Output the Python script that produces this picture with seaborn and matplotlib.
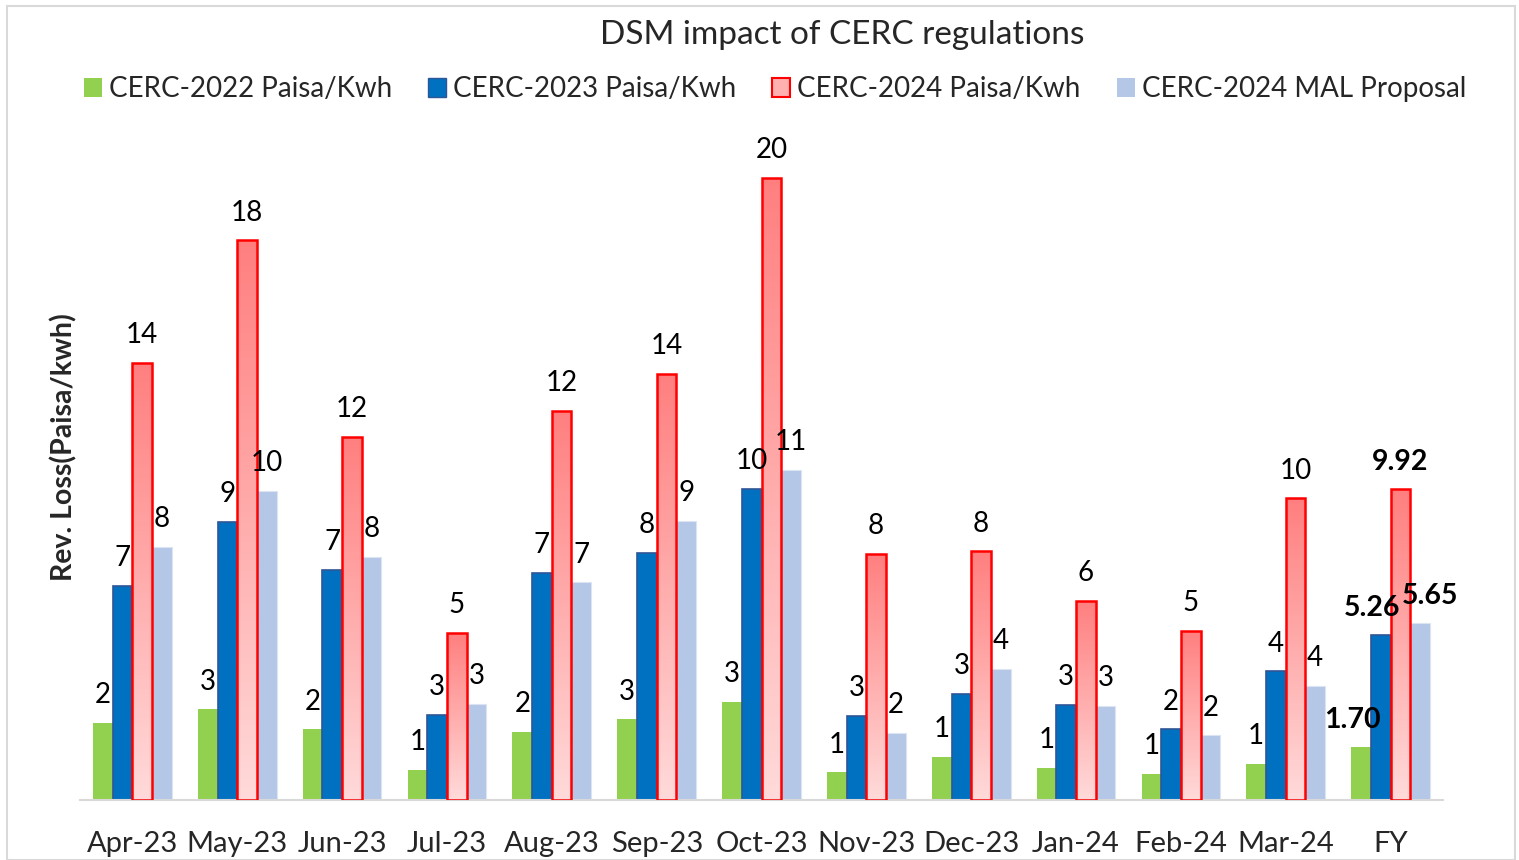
import numpy as np
import pandas as pd
import matplotlib
matplotlib.use("Agg")
import matplotlib.pyplot as plt
import seaborn as sns
from matplotlib.patches import Rectangle

categories = ["Apr-23", "May-23", "Jun-23", "Jul-23", "Aug-23", "Sep-23", "Oct-23",
              "Nov-23", "Dec-23", "Jan-24", "Feb-24", "Mar-24", "FY"]
series_names = ["CERC-2022 Paisa/Kwh", "CERC-2023 Paisa/Kwh",
                "CERC-2024 Paisa/Kwh", "CERC-2024 MAL Proposal"]
cerc2022 = [2.46, 2.90, 2.26, 0.96, 2.17, 2.58, 3.13, 0.89, 1.37, 1.02, 0.83, 1.15, 1.70]
cerc2023 = [6.83, 8.87, 7.34, 2.71, 7.24, 7.88, 9.92, 2.68, 3.38, 3.03, 2.26, 4.11, 5.26]
cerc2024 = [13.94, 17.86, 11.58, 5.33, 12.41, 13.59, 19.84, 7.85, 7.94, 6.35, 5.39, 9.63, 9.92]
mal2024 = [8.07, 9.86, 7.75, 3.06, 6.95, 8.90, 10.53, 2.14, 4.18, 3.00, 2.07, 3.64, 5.65]

colors = ["#92D050", "#0070C0", "#FF8080", "#B4C7E7"]

sns.set_theme(style="white")
plt.rcParams['font.family'] = ['Lato', 'DejaVu Sans']

rows = []
for name, vals in zip(series_names, [cerc2022, cerc2023, cerc2024, mal2024]):
    for c, v in zip(categories, vals):
        rows.append({"Month": c, "Series": name, "Value": v})
df = pd.DataFrame(rows)

fig = plt.figure(figsize=(15.19, 8.60), dpi=100)
ax = fig.add_axes([80 / 1519, 60 / 860, (1443 - 80) / 1519, 674 / 860])

sns.barplot(data=df, x="Month", y="Value", hue="Series", order=categories,
            hue_order=series_names, palette=colors, width=0.75, ax=ax,
            saturation=1, legend=False, errorbar=None)

cmap = matplotlib.colors.LinearSegmentedColormap.from_list("rg", ["#FFDADA", "#FF7F7F"])
grad = np.linspace(1, 0, 256).reshape(-1, 1)  # top row = 1 (dark)

for i, cont in enumerate(ax.containers):
    for p in cont.patches:
        if i == 0:
            p.set_edgecolor("none"); p.set_linewidth(0)
        elif i == 1:
            p.set_edgecolor("#2F5597"); p.set_linewidth(1.2)
        elif i == 2:
            p.set_facecolor("none"); p.set_edgecolor("#FF0000"); p.set_linewidth(1.8)
            p.set_zorder(3)
            x0 = p.get_x(); w = p.get_width(); h = p.get_height()
            im = ax.imshow(grad, extent=(x0, x0 + w, 0, h), aspect="auto",
                           cmap=cmap, origin="upper", zorder=2, vmin=0, vmax=1)
            im.set_clip_path(p)
        else:
            p.set_edgecolor("#DCE4F2"); p.set_linewidth(0.8)

ax.set_xlim(-0.5, 12.5)
ax.set_ylim(0, 21.5)

label_fs = 20
for i, (cont, vals) in enumerate(zip(ax.containers, [cerc2022, cerc2023, cerc2024, mal2024])):
    labels = [f"{v:.0f}" for v in vals[:-1]] + [""]
    ax.bar_label(cont, labels=labels, padding=10.5, fontsize=label_fs, color="black")

fy_dx = [-6, -6, 0, 7]
for i, (cont, vals) in enumerate(zip(ax.containers, [cerc2022, cerc2023, cerc2024, mal2024])):
    p = cont.patches[-1]
    ax.annotate(f"{vals[-1]:.2f}", xy=(p.get_x() + p.get_width() / 2, p.get_height()),
                xytext=(fy_dx[i], 10), textcoords="offset points", ha="center", va="bottom",
                fontsize=20.5, fontweight="bold", color="black")

for s in ["top", "right", "left"]:
    ax.spines[s].set_visible(False)
ax.spines["bottom"].set_color("#D9D9D9")
ax.spines["bottom"].set_linewidth(1.5)
ax.set_yticks([])
ax.set_xlabel("")
ax.set_ylabel("Rev. Loss(Paisa/kwh)", fontsize=20.5, fontweight="bold")
ax.yaxis.set_label_coords(-0.002, 0.524)
ax.tick_params(axis="x", length=0, labelsize=21, pad=22)

fig.text(842 / 1519, 1 - 35.5 / 860, "DSM impact of CERC regulations", ha="center",
         va="center", fontsize=24)
handles = []
for c, n in zip(colors, series_names):
    if n == "CERC-2024 Paisa/Kwh":
        handles.append(Rectangle((0, 0), 1, 1, facecolor="#FFB0B0", edgecolor="#FF0000", linewidth=1.5))
    elif n == "CERC-2023 Paisa/Kwh":
        handles.append(Rectangle((0, 0), 1, 1, facecolor=c, edgecolor="#2F5597", linewidth=1))
    else:
        handles.append(Rectangle((0, 0), 1, 1, facecolor=c, edgecolor="none"))
fig.legend(handles, series_names, loc="center", bbox_to_anchor=(775 / 1519, 1 - 89 / 860),
           ncol=4, frameon=False, fontsize=20, handlelength=0.65, handleheight=0.65,
           handletextpad=0.25, columnspacing=1.3)

fig.add_artist(Rectangle((7 / 1519, 0.0), 1508 / 1519, 1 - 6 / 860, transform=fig.transFigure,
                         fill=False, edgecolor="#D9D9D9", linewidth=1.5))

fig.savefig("out.png", dpi=100)
